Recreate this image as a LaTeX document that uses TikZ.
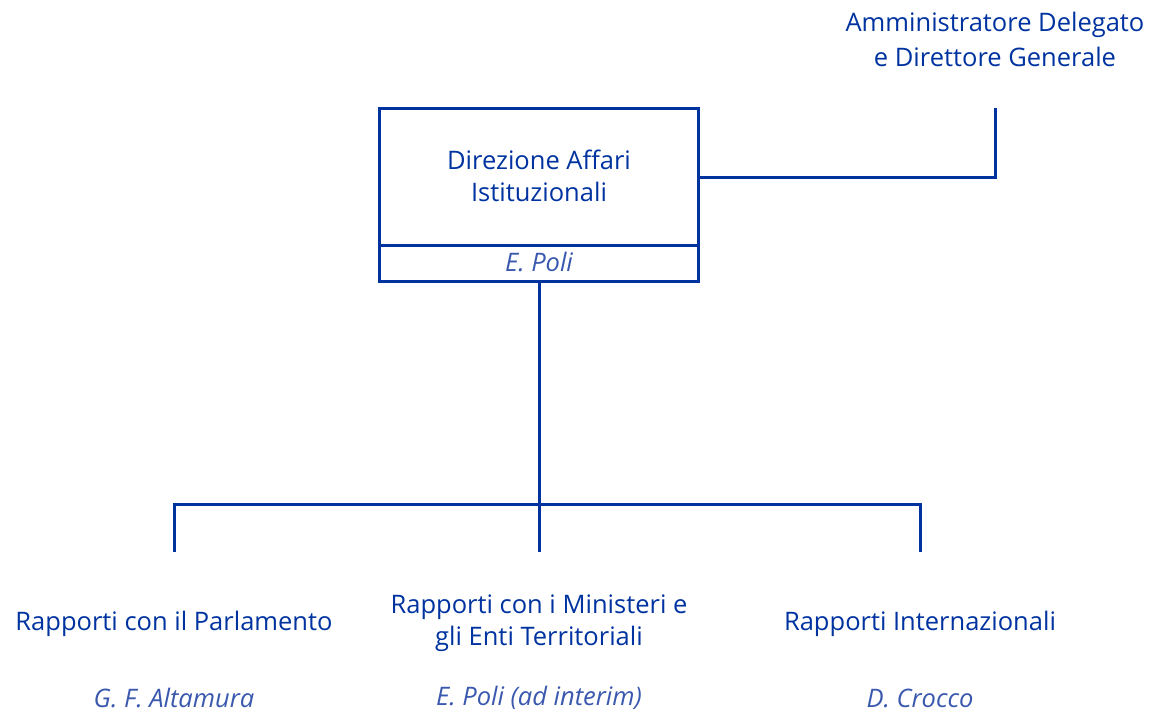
\documentclass[tikz,border=0pt]{standalone}
\usepackage{fontspec}
\setmainfont{Open Sans}
\definecolor{eblue}{HTML}{0033A0}
\definecolor{nblue}{HTML}{3A58AE}
\begin{document}
\begin{tikzpicture}[x=1pt,y=-1pt,
  ln/.style={draw=eblue,line width=3pt},
  ttl/.style={text=eblue,font=\fontsize{25.5}{32}\selectfont,align=center,inner sep=0pt},
  nm/.style={text=nblue,font=\fontsize{25.5}{32}\selectfont\itshape,inner sep=0pt}]
\useasboundingbox (0,0) rectangle (1150,710);
% main box
\draw[ln] (379,108) rectangle (698,281);
\draw[ln] (379,245) -- (698,245);
\node[ttl] (dai) at (539,176) {Direzione Affari\\Istituzionali};
\node[nm] (poli) at (539,262) {E. Poli};
\coordinate (boxr) at (698,177);
\coordinate (boxb) at (539,281);
% top
\node[ttl,font=\fontsize{25.5}{35}\selectfont] (ad) at (995,39) {Amministratore Delegato\\e Direttore Generale};
\coordinate (adb) at (995,108);
\draw[ln] (boxr) -- (adb |- boxr) -- (adb);
% bottom tree
\coordinate (bus) at (539,504);
\coordinate (l) at (174,552);
\coordinate (m) at (539,552);
\coordinate (r) at (920,552);
\draw[ln] (boxb) -- (m);
\draw[ln] (l) -- (l |- bus) -- (r |- bus) -- (r);
\node[ttl] (t1) at (174,624) {Rapporti con il Parlamento};
\node[ttl] (t2) at (539,623) {Rapporti con i Ministeri e\\gli Enti Territoriali};
\node[ttl] (t3) at (920,624) {Rapporti Internazionali};
\node[nm] (n1) at (174,698) {G. F. Altamura};
\node[nm] (n2) at (539,698) {E. Poli (ad interim)};
\node[nm] (n3) at (920,698) {D. Crocco};
\end{tikzpicture}
\end{document}
